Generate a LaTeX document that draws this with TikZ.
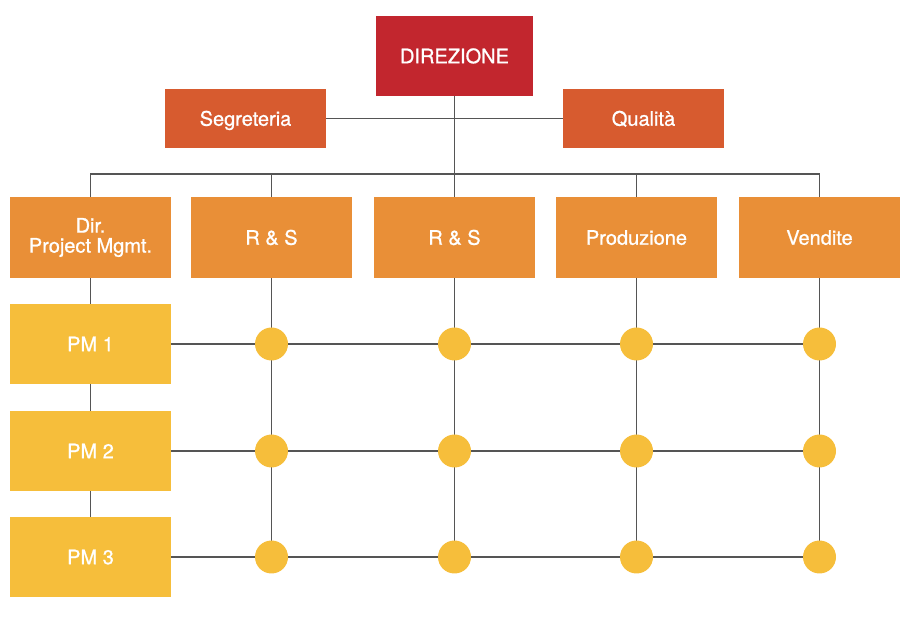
\documentclass[tikz,border=0pt]{standalone}
\usepackage{fontspec}
\setmainfont{TeX Gyre Heros}
\newfontfamily\medfont[FakeBold=0.9]{TeX Gyre Heros}
\begin{document}
\begin{tikzpicture}[x=1pt,y=-1pt,
  box/.style={draw=none,text=white,align=center,minimum width=161pt,minimum height=80pt,inner sep=0pt,font=\medfont\fontsize{20}{23}\selectfont},
  oneline/.style={text height=14.5pt,text depth=0pt},
  lvlA/.style={box,oneline,fill=cRed,minimum width=157pt},
  lvlB/.style={box,oneline,fill=cOrangeD,minimum height=59pt},
  lvlC/.style={box,fill=cOrange,minimum height=81pt},
  lvlD/.style={box,oneline,fill=cYellow},
  dot/.style={circle,fill=cYellow,minimum size=33pt,inner sep=0pt},
  wire/.style={draw=cLine,line width=1.2pt}]
\definecolor{cRed}{HTML}{C2262E}
\definecolor{cOrangeD}{HTML}{D75B2F}
\definecolor{cOrange}{HTML}{E98F37}
\definecolor{cYellow}{HTML}{F6BE3B}
\definecolor{cLine}{HTML}{555555}
\useasboundingbox (0,0) rectangle (906,617);
% nodes
\node[lvlA] (dir) at (454.5,56) {DIREZIONE};
\node[lvlB] (seg) at (245.5,118.5) {Segreteria};
\node[lvlB] (qual) at (643.5,118.5) {Qualità};
\node[lvlC] (d1) at (90.5,237.5) {Dir.\\[-3pt]Project Mgmt.};
\node[lvlC,oneline] (d2) at (271.5,237.5) {R \& S};
\node[lvlC,oneline] (d3) at (454.5,237.5) {R \& S};
\node[lvlC,oneline] (d4) at (636.5,237.5) {Produzione};
\node[lvlC,oneline] (d5) at (819.5,237.5) {Vendite};
\node[lvlD] (pm1) at (90.5,344) {PM 1};
\node[lvlD] (pm2) at (90.5,451) {PM 2};
\node[lvlD] (pm3) at (90.5,557) {PM 3};
\coordinate (bus) at (454.5,174);
% connectors
\draw[wire] (seg.east) -- (qual.west);
\draw[wire] (dir.south) -- (d3.north);
\draw[wire] (d1.north) |- (bus) -| (d5.north);
\draw[wire] (d2.north) -- (d2.north |- bus);
\draw[wire] (d4.north) -- (d4.north |- bus);
\draw[wire] (d1.south) -- (pm1.north);
\draw[wire] (pm1.south) -- (pm2.north);
\draw[wire] (pm2.south) -- (pm3.north);
\foreach \c in {2,3,4,5}{
  \coordinate (v\c) at (d\c.south |- pm3.east);
  \draw[wire] (d\c.south) -- (v\c);
}
\foreach \r in {1,2,3}{
  \draw[wire] (pm\r.east) -- (pm\r.east -| d5.south);
}
% junction dots
\foreach \c in {2,3,4,5}{
  \foreach \r in {1,2,3}{
    \node[dot] (c\c\r) at (d\c.south |- pm\r.east) {};
  }
}
\end{tikzpicture}
\end{document}
